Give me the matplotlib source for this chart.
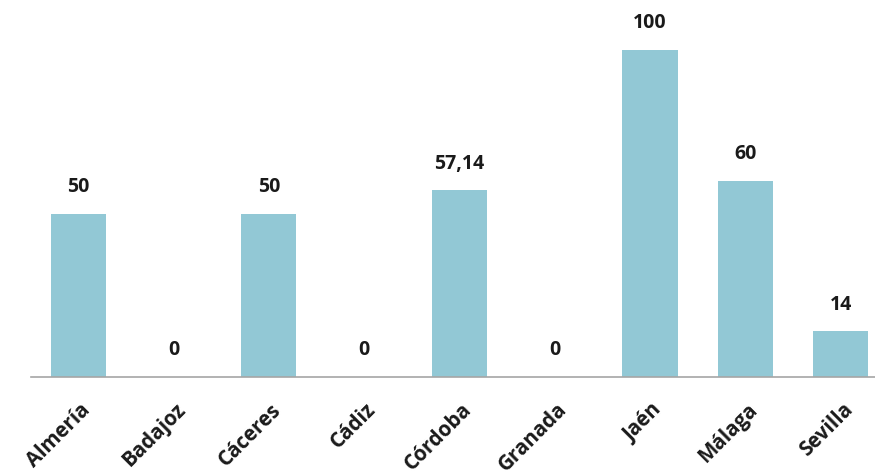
import matplotlib
matplotlib.use("Agg")
import matplotlib.pyplot as plt
from matplotlib.transforms import ScaledTranslation

categories = ["Almería", "Badajoz", "Cáceres", "Cádiz", "Córdoba", "Granada", "Jaén", "Málaga", "Sevilla"]
values = [50, 0, 50, 0, 57.14, 0, 100, 60, 14]
labels = ["50", "0", "50", "0", "57,14", "0", "100", "60", "14"]

plt.rcParams['font.family'] = ['Open Sans', 'DejaVu Sans']

fig = plt.figure(figsize=(8.75, 4.75), dpi=100)
W, H = 875, 475
spacing = 95.3
left_px = 30.6
ax = fig.add_axes([left_px / W, 98 / H, 9 * spacing / W, 377 / H])

x = list(range(len(categories)))
ax.bar(x, values, width=0.58, color="#92C8D5")
ax.set_xlim(-0.5, 8.5)
ax.set_ylim(0, 115.3)

for xi, v, lab in zip(x, values, labels):
    ax.annotate(lab, (xi, v), xytext=(0, 12), textcoords="offset points",
                ha="center", va="bottom", fontsize=14, fontweight="bold", color="#1a1a1a")

for s in ["top", "left", "right"]:
    ax.spines[s].set_visible(False)
ax.spines["bottom"].set_color("#a6a6a6")
ax.spines["bottom"].set_linewidth(1.2)
ax.set_yticks([])
ax.set_xticks(x)
ax.set_xticklabels(categories, rotation=45, ha="right", rotation_mode="anchor",
                   fontsize=14.8, fontweight="bold", color="#1a1a1a")
ax.tick_params(axis="x", length=0, pad=16)
offset = ScaledTranslation(1 / 72, 0, fig.dpi_scale_trans)
for t in ax.get_xticklabels():
    t.set_transform(t.get_transform() + offset)

fig.savefig("out.png", dpi=100)
